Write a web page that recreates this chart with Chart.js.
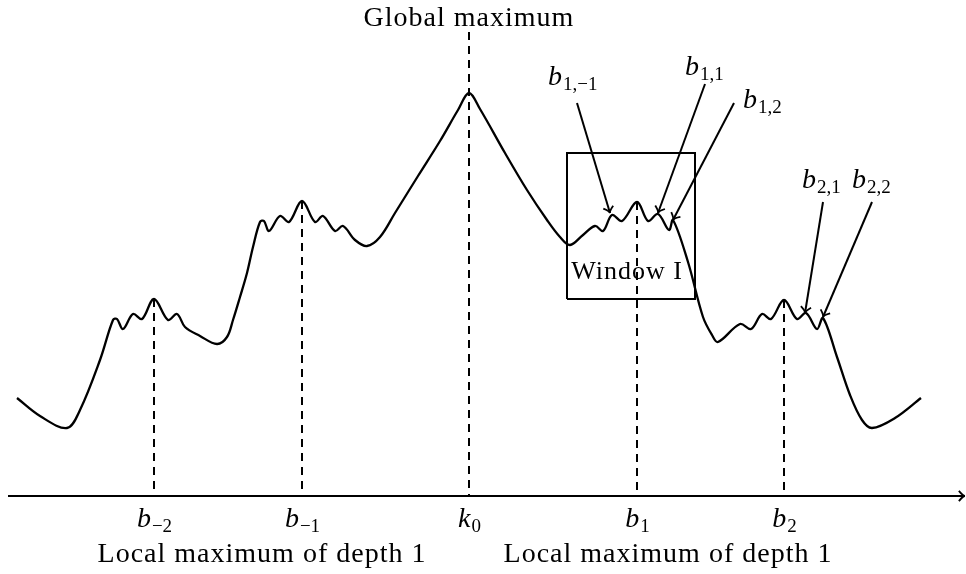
<!DOCTYPE html>
<html>
<head>
<meta charset="utf-8">
<script src="https://cdn.jsdelivr.net/npm/chart.js@4/dist/chart.umd.min.js"></script>
<style>
    html, body { margin: 0; background: #fff; }
    canvas { display: block; }
</style>
</head>
<body>
<canvas id="chart" width="966" height="574"></canvas>
<script>
// Curve samples: x position, height above the axis
const curveX = [17, 40, 67, 80, 100, 113, 117, 123, 133, 142, 154, 168, 177, 185, 200, 217, 227, 233, 240, 247, 253, 260,
    264, 269, 280, 289, 302, 315, 323, 335, 343, 355, 367, 380, 395, 418, 440, 458, 469,
    480, 505, 527, 547, 560, 570, 583, 595, 603, 612, 622, 637, 648, 658, 669, 673, 688, 703, 712, 718,
    740, 751, 762, 771, 784, 797, 806, 817, 823, 837, 850, 862, 872, 895, 921];
const curveY = [98, 80, 68, 86, 136, 176, 177, 167, 182, 177, 197, 176, 182, 169, 160, 152, 159, 176, 199, 223, 249, 274,
    275, 265, 280, 274, 295, 274, 280, 265, 270, 256, 250, 259, 283, 320, 355, 386, 403,
    387, 343, 306, 276, 259, 251, 261, 270, 265, 281, 275, 294, 275, 282, 266, 276, 234, 179, 161, 154,
    172, 167, 182, 177, 196, 177, 183, 167, 178, 139, 101, 76, 68, 78, 98];

// Dashed guides down to the axis
const guideX = [154, 302, 469, 637, 784];
const guideTop = [197, 295, 464, 294, 196];
const guideBase = ['b', 'b', 'k', 'b', 'b'];
const guideSub = ['\u22122', '\u22121', '0', '1', '2'];

// Window I box
const boxX = [567, 695];
const boxY = [197, 343];

// Pointer arrows to the sub-maxima
const arrowFromX = [577, 705, 734, 823, 872];
const arrowFromY = [393, 412, 393, 294, 294];
const arrowToX = [610, 658, 673, 805, 823];
const arrowToY = [283, 283, 276, 183, 179];
const arrowSub = ['1,\u22121', '1,1', '1,2', '2,1', '2,2'];
const arrowLabelX = [548, 685, 743, 802, 852];
const arrowLabelY = [411, 421, 388, 308, 308];

// Horizontal axis
const axisX = [8, 965];

const FONT = '"Liberation Serif", "Times New Roman", serif';
const INK = '#000';

function pts(xs, ys) {
    return xs.map((x, i) => ({ x, y: ys[i] }));
}

function lineSet(data, extra) {
    return Object.assign({
        data,
        showLine: true,
        borderColor: INK,
        borderWidth: 2,
        pointRadius: 0,
        tension: 0,
        fill: false
    }, extra || {});
}

const datasets = [];
datasets.push(lineSet(pts(curveX, curveY), { borderWidth: 2.3, tension: 0.35 }));
guideX.forEach((x, i) => {
    datasets.push(lineSet([{ x, y: guideTop[i] }, { x, y: 0 }], { borderDash: [8, 6] }));
});
datasets.push(lineSet([
    { x: boxX[0], y: boxY[0] }, { x: boxX[1], y: boxY[0] },
    { x: boxX[1], y: boxY[1] }, { x: boxX[0], y: boxY[1] }, { x: boxX[0], y: boxY[0] }
]));
arrowFromX.forEach((x, i) => {
    datasets.push(lineSet([{ x, y: arrowFromY[i] }, { x: arrowToX[i], y: arrowToY[i] }]));
});
datasets.push(lineSet([{ x: axisX[0], y: 0 }, { x: axisX[1], y: 0 }]));

function arrowHead(ctx, x0, y0, x1, y1) {
    const a = Math.atan2(y1 - y0, x1 - x0);
    const len = 8, spread = 0.7;
    ctx.beginPath();
    ctx.moveTo(x1 - len * Math.cos(a - spread), y1 - len * Math.sin(a - spread));
    ctx.quadraticCurveTo(x1 - 2 * Math.cos(a), y1 - 2 * Math.sin(a), x1, y1);
    ctx.quadraticCurveTo(x1 - 2 * Math.cos(a), y1 - 2 * Math.sin(a),
        x1 - len * Math.cos(a + spread), y1 - len * Math.sin(a + spread));
    ctx.stroke();
}

function mathLabel(ctx, x, y, base, sub, align) {
    ctx.font = 'italic 28px ' + FONT;
    const w1 = ctx.measureText(base).width;
    ctx.font = '19px ' + FONT;
    const w2 = ctx.measureText(sub).width;
    const left = align === 'center' ? x - (w1 + w2) / 2 : x;
    ctx.textAlign = 'left';
    ctx.font = 'italic 28px ' + FONT;
    ctx.fillText(base, left, y);
    ctx.font = '19px ' + FONT;
    ctx.fillText(sub, left + w1 + 1, y + 5);
}

const annotations = {
    id: 'annotations',
    afterDatasetsDraw(chart) {
        const { ctx, scales: { x: sx, y: sy } } = chart;
        ctx.save();
        ctx.strokeStyle = INK;
        ctx.fillStyle = INK;
        ctx.lineWidth = 1.8;

        arrowFromX.forEach((x, i) => {
            arrowHead(ctx, sx.getPixelForValue(x), sy.getPixelForValue(arrowFromY[i]),
                sx.getPixelForValue(arrowToX[i]), sy.getPixelForValue(arrowToY[i]));
        });
        arrowHead(ctx, sx.getPixelForValue(axisX[0]), sy.getPixelForValue(0),
            sx.getPixelForValue(axisX[1]), sy.getPixelForValue(0));

        ctx.textBaseline = 'alphabetic';
        guideX.forEach((x, i) => {
            mathLabel(ctx, sx.getPixelForValue(x), sy.getPixelForValue(-31), guideBase[i], guideSub[i], 'center');
        });
        arrowLabelX.forEach((x, i) => {
            mathLabel(ctx, sx.getPixelForValue(x), sy.getPixelForValue(arrowLabelY[i]), 'b', arrowSub[i], 'left');
        });

        ctx.font = '28px ' + FONT;
        ctx.letterSpacing = '1px';
        ctx.textAlign = 'center';
        ctx.fillText('Global maximum', sx.getPixelForValue(469), sy.getPixelForValue(470));
        ctx.fillText('Local maximum of depth 1', sx.getPixelForValue(262), sy.getPixelForValue(-66));
        ctx.fillText('Local maximum of depth 1', sx.getPixelForValue(668), sy.getPixelForValue(-66));
        ctx.font = '26px ' + FONT;
        ctx.fillText('Window I', sx.getPixelForValue(627), sy.getPixelForValue(217));
        ctx.restore();
    }
};

new Chart(document.getElementById('chart'), {
    type: 'scatter',
    data: { datasets },
    options: {
        responsive: false,
        animation: false,
        layout: { padding: 0 },
        plugins: {
            legend: { display: false },
            tooltip: { enabled: false }
        },
        scales: {
            x: { type: 'linear', min: 0, max: 966, display: false },
            y: { type: 'linear', min: -78, max: 496, display: false }
        }
    },
    plugins: [annotations]
});
</script>
</body>
</html>
